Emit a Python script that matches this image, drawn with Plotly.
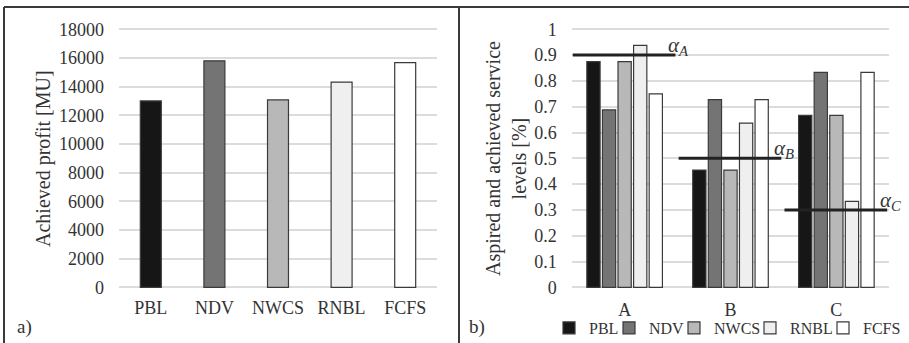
import plotly.graph_objects as go

# ---------------- data ----------------
strategies = ["PBL", "NDV", "NWCS", "RNBL", "FCFS"]
profit = [13000, 15800, 13070, 14320, 15670]

classes = ["A", "B", "C"]
service_PBL = [0.875, 0.4545, 0.6667]
service_NDV = [0.6875, 0.7273, 0.8333]
service_NWCS = [0.875, 0.4545, 0.6667]
service_RNBL = [0.9375, 0.6364, 0.3333]
service_FCFS = [0.75, 0.7273, 0.8333]
service = [service_PBL, service_NDV, service_NWCS, service_RNBL, service_FCFS]

alpha_levels = [0.9, 0.5, 0.3]
alpha_names = ["A", "B", "C"]

profit_ticks = [0, 2000, 4000, 6000, 8000, 10000, 12000, 14000, 16000, 18000]
service_ticks = [0, 0.1, 0.2, 0.3, 0.4, 0.5, 0.6, 0.7, 0.8, 0.9, 1]
service_ticktext = ["0", "0.1", "0.2", "0.3", "0.4", "0.5", "0.6", "0.7", "0.8", "0.9", "1"]

# ---------------- styles ----------------
colors = ["#161616", "#747474", "#b8b8b8", "#eeefee", "#ffffff"]
outline = "#3a3a3a"
FONT = "Liberation Serif"
TXT = "#333333"
GRID = "#dcdcdc"
legend_widths = [15, 20, 31, 28, None]

W, H = 909, 343
def px_x(p):
    return p / W
def px_y(p):
    return (H - p) / H

fig = go.Figure()

# left panel
fig.add_trace(go.Bar(
    x=strategies, y=profit, xaxis="x", yaxis="y",
    marker=dict(color=colors, line=dict(color=outline, width=1.2)),
    width=0.33, showlegend=False,
))

# right panel
for i, name in enumerate(strategies):
    kw = {}
    if legend_widths[i] is not None:
        kw["legendwidth"] = legend_widths[i]
    fig.add_trace(go.Bar(
        x=classes, y=service[i], name=name, xaxis="x2", yaxis="y2",
        marker=dict(color=colors[i], line=dict(color=outline, width=1.2)),
        **kw,
    ))

# aspired service levels
for i, (lvl, nm) in enumerate(zip(alpha_levels, alpha_names)):
    fig.add_shape(type="line", xref="x2", yref="y2",
                  x0=i - 0.49, x1=i + 0.48, y0=lvl, y1=lvl,
                  line=dict(color="#222222", width=3))
    fig.add_annotation(xref="x2", yref="y2", x=i + 0.39, y=lvl,
                       xanchor="left", yanchor="bottom", yshift=-6,
                       text="<i>α</i><sub><i>%s</i></sub>" % nm, showarrow=False,
                       font=dict(family=FONT, size=21, color=TXT))

pad_l = 2 * 18000 / 258
pad_r = 2 * 1 / 258
ydom = [px_y(289.3), px_y(27.3)]

axis_common = dict(showline=False, zeroline=False, ticks="", automargin=False,
                   tickfont=dict(family=FONT, size=18, color=TXT))

fig.update_layout(
    width=W, height=H,
    margin=dict(l=0, r=0, t=0, b=0, pad=0, autoexpand=False),
    paper_bgcolor="white", plot_bgcolor="white",
    barmode="group", bargap=0.264, bargroupgap=0.15,
    font=dict(family=FONT, size=18, color=TXT),
    xaxis=dict(domain=[px_x(119), px_x(437)], anchor="y", showgrid=False,
               range=[-0.5, len(strategies) - 0.5],
               ticklabelstandoff=6, **axis_common),
    yaxis=dict(domain=ydom, anchor="x", range=[-pad_l, 18000 + pad_l],
               tickvals=profit_ticks, tickformat="d",
               showgrid=True, gridcolor=GRID, gridwidth=1.5,
               ticklabelstandoff=14, **axis_common),
    xaxis2=dict(domain=[px_x(571.7), px_x(889.3)], anchor="y2", showgrid=False,
                range=[-0.5, len(classes) - 0.5],
                ticklabelstandoff=8, **axis_common),
    yaxis2=dict(domain=ydom, anchor="x2", range=[-pad_r, 1 + pad_r],
                tickvals=service_ticks, ticktext=service_ticktext,
                showgrid=True, gridcolor=GRID, gridwidth=1.5,
                ticklabelstandoff=14, **axis_common),
    legend=dict(orientation="h", x=px_x(549), xanchor="left",
                y=px_y(311), yanchor="top", bgcolor="rgba(0,0,0,0)",
                font=dict(family=FONT, size=16, color=TXT),
                traceorder="normal", itemclick=False),
)

# axis titles and panel labels
fig.add_annotation(xref="paper", yref="paper", x=px_x(43), y=px_y(159),
                   xanchor="center", yanchor="middle",
                   text="Achieved profit [MU]", textangle=-90, showarrow=False,
                   font=dict(family=FONT, size=20, color=TXT))
fig.add_annotation(xref="paper", yref="paper", x=px_x(506), y=px_y(159),
                   xanchor="center", yanchor="middle",
                   text="Aspired and achieved service<br>levels [%]", textangle=-90,
                   showarrow=False, font=dict(family=FONT, size=20, color=TXT))
fig.add_annotation(xref="paper", yref="paper", x=px_x(15), y=px_y(327),
                   xanchor="left", yanchor="middle", text="a)", showarrow=False,
                   font=dict(family=FONT, size=19, color=TXT))
fig.add_annotation(xref="paper", yref="paper", x=px_x(467), y=px_y(327),
                   xanchor="left", yanchor="middle", text="b)", showarrow=False,
                   font=dict(family=FONT, size=19, color=TXT))

# panel frame
frame = dict(color="#3a3a3a", width=2)
fig.add_shape(type="line", xref="paper", yref="paper", x0=px_x(4), x1=1,
              y0=px_y(7), y1=px_y(7), line=frame)
fig.add_shape(type="line", xref="paper", yref="paper", x0=px_x(4), x1=px_x(4),
              y0=0, y1=px_y(7), line=frame)
fig.add_shape(type="line", xref="paper", yref="paper", x0=px_x(459), x1=px_x(459),
              y0=0, y1=px_y(7), line=frame)

fig.write_html("out.html",
               config={"displayModeBar": False},
               post_script="document.body.style.margin='0px';"
                           "document.body.style.overflow='hidden';")
